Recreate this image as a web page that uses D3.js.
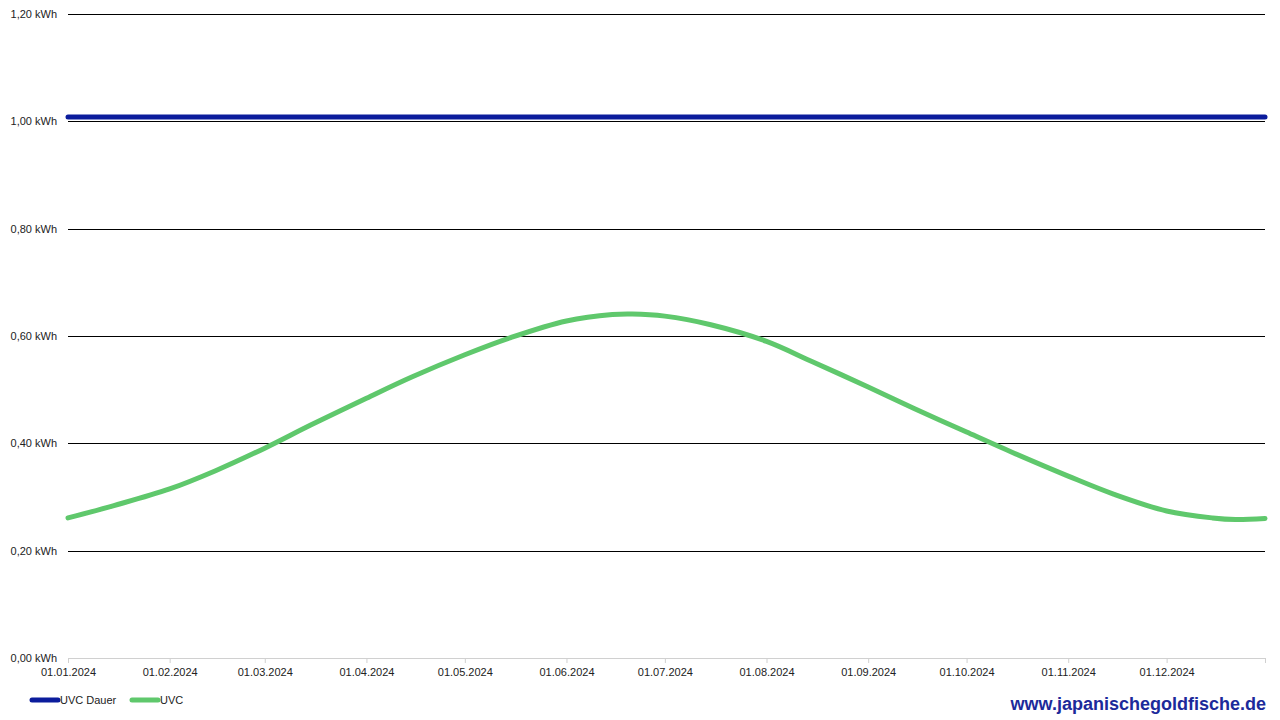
<!DOCTYPE html>
<html>
<head>
<meta charset="utf-8">
<script src="https://cdn.jsdelivr.net/npm/d3@7"></script>
<style>
  body { margin: 0; background: #fff; }
  svg { display: block; font-family: "Liberation Sans", Arial, sans-serif; }
</style>
</head>
<body>
<svg id="chart"></svg>
<script>
// Dates (start of month + mid month + turning points)
const dates = [
    "2024-01-01", "2024-01-15", "2024-02-01", "2024-02-15", "2024-03-01", "2024-03-15",
    "2024-04-01", "2024-04-15", "2024-05-01", "2024-05-15", "2024-06-01", "2024-06-15",
    "2024-06-21", "2024-07-01", "2024-07-15", "2024-08-01", "2024-08-15", "2024-09-01",
    "2024-09-15", "2024-10-01", "2024-10-15", "2024-11-01", "2024-11-15", "2024-12-01",
    "2024-12-15", "2024-12-22", "2024-12-31"
];
// UVC (kWh) - seasonal curve
const uvc = [
    0.261, 0.284, 0.315, 0.349, 0.391, 0.434,
    0.484, 0.524, 0.565, 0.597, 0.628, 0.640,
    0.641, 0.637, 0.621, 0.590, 0.552, 0.505,
    0.465, 0.421, 0.383, 0.339, 0.305, 0.274,
    0.261, 0.258, 0.260
];
// UVC Dauer (kWh) - constant
const uvcDauer = dates.map(() => 1.008);

const yTicks = [0, 0.2, 0.4, 0.6, 0.8, 1.0, 1.2];
const xTicks = [
    "2024-01-01", "2024-02-01", "2024-03-01", "2024-04-01", "2024-05-01", "2024-06-01",
    "2024-07-01", "2024-08-01", "2024-09-01", "2024-10-01", "2024-11-01", "2024-12-01", "2024-12-31"
];
const seriesNames = ["UVC Dauer", "UVC"];
const seriesColors = ["#0b1c9c", "#5fc86c"];

const width = 1280, height = 720;
const margin = { top: 14, right: 15, bottom: 62, left: 68 };
const innerWidth = width - margin.left - margin.right;
const innerHeight = height - margin.top - margin.bottom;

const svg = d3.select("#chart").attr("width", width).attr("height", height);
const g = svg.append("g").attr("transform", `translate(${margin.left}, ${margin.top})`);

const parseDate = d3.timeParse("%Y-%m-%d");
const dateObjs = dates.map(parseDate);

const xScale = d3.scaleTime()
    .domain([parseDate("2024-01-01"), parseDate("2024-12-31")])
    .range([0, innerWidth]);
const yScale = d3.scaleLinear().domain([0, 1.2]).range([innerHeight, 0]);

const fmtY = v => d3.format(".2f")(v).replace(".", ",") + " kWh";
const fmtX = d3.timeFormat("%d.%m.%Y");

// Gridlines (not at zero)
g.selectAll("line.grid")
    .data(yTicks.filter(t => t > 0))
    .enter().append("line")
    .attr("class", "grid")
    .attr("x1", 0).attr("x2", innerWidth)
    .attr("y1", d => Math.round(yScale(d)) + 0.5)
    .attr("y2", d => Math.round(yScale(d)) + 0.5)
    .attr("stroke", "#000")
    .attr("stroke-width", 1);

// Y axis labels
const yAxis = d3.axisLeft(yScale).tickValues(yTicks).tickFormat(fmtY).tickSize(0).tickPadding(11);
g.append("g").call(yAxis)
    .call(s => s.select(".domain").remove())
    .selectAll("text")
    .style("font-size", "11px")
    .attr("fill", "#222");

// X axis
const xAxis = d3.axisBottom(xScale)
    .tickValues(xTicks.map(parseDate))
    .tickFormat(d => d.getMonth() === 11 && d.getDate() === 31 ? "" : fmtX(d))
    .tickSize(5)
    .tickPadding(5);
const xg = g.append("g")
    .attr("transform", `translate(0, ${innerHeight})`)
    .call(xAxis);
xg.select(".domain").attr("stroke", "#d0d0d0").attr("d", `M0.5,0.5H${innerWidth + 0.5}`);
xg.selectAll(".tick line").attr("stroke", "#d0d0d0");
xg.selectAll("text").style("font-size", "11px").attr("fill", "#222");

// Lines
const line = d3.line()
    .x((d, i) => xScale(dateObjs[i]))
    .y(d => yScale(d))
    .curve(d3.curveCatmullRom.alpha(0.5));

[uvcDauer, uvc].forEach((values, i) => {
    g.append("path")
        .datum(values)
        .attr("fill", "none")
        .attr("stroke", seriesColors[i])
        .attr("stroke-width", 5)
        .attr("stroke-linecap", "round")
        .attr("d", line);
});

// Legend
const legend = svg.append("g").attr("transform", "translate(0, 700)");
const legendX = [32, 132];
seriesNames.forEach((name, i) => {
    legend.append("line")
        .attr("x1", legendX[i]).attr("x2", legendX[i] + 26)
        .attr("y1", 0).attr("y2", 0)
        .attr("stroke", seriesColors[i])
        .attr("stroke-width", 5)
        .attr("stroke-linecap", "round");
    legend.append("text")
        .attr("x", legendX[i] + 28)
        .attr("y", 4)
        .text(name)
        .style("font-size", "11px")
        .attr("fill", "#222");
});

// Watermark
svg.append("text")
    .attr("x", 1266)
    .attr("y", 710)
    .attr("text-anchor", "end")
    .text("www.japanischegoldfische.de")
    .style("font-size", "18px")
    .style("font-weight", "bold")
    .attr("fill", "#1c2a9a");
</script>
</body>
</html>
